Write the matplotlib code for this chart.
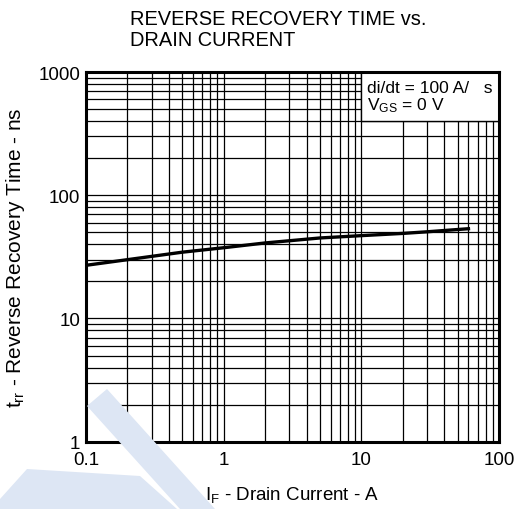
import matplotlib
matplotlib.use("Agg")
import matplotlib.pyplot as plt
from matplotlib.patches import Polygon, Rectangle

plt.rcParams['font.family'] = ['Liberation Sans', 'DejaVu Sans']
plt.rcParams['mathtext.fontset'] = 'custom'
plt.rcParams['mathtext.rm'] = 'Liberation Sans'
plt.rcParams['mathtext.it'] = 'Liberation Sans'

# trr vs IF
drain_current = [0.1, 0.2, 0.5, 1, 2, 5, 10, 20, 30, 60]
recovery_time = [27, 30, 34.5, 37.5, 41, 45, 47, 49, 50.5, 53.5]

x_ticks = [0.1, 1, 10, 100]
x_labels = ['0.1', '1', '10', '100']
y_ticks = [1, 10, 100, 1000]
y_labels = ['1', '10', '100', '1000']

W, H = 517, 510
fig = plt.figure(figsize=(W / 100, H / 100), dpi=100)

# faint watermark shapes in the bottom-left corner
wm = '#dde6f4'
def px(pts):
    return [(x / W, 1 - y / H) for x, y in pts]
fig.patches.append(Polygon(px([(87, 407), (107, 390), (215, 510), (180, 510)]),
                           closed=True, transform=fig.transFigure,
                           facecolor=wm, edgecolor='none', zorder=0))
fig.patches.append(Polygon(px([(0, 500), (27, 470), (140, 477), (177, 510), (0, 510)]),
                           closed=True, transform=fig.transFigure,
                           facecolor=wm, edgecolor='none', zorder=0))

ax = fig.add_axes([86 / W, 1 - 442.7 / H, 413 / W, 369.7 / H])
ax.set_facecolor('none')
ax.set_xscale('log')
ax.set_yscale('log')
ax.set_xlim(0.1, 100)
ax.set_ylim(1, 1000)
ax.set_axisbelow(True)
ax.grid(True, which='both', color='black', linewidth=0.9)

ax.plot(drain_current, recovery_time, color='black', linewidth=2.4, zorder=3)

# condition box in the upper right
ax.add_patch(Rectangle((10, 400), 90, 600, facecolor='white',
                       edgecolor='black', linewidth=1.0, zorder=1))
ax.text(0.68, 0.957, 'di/dt = 100 A/   s', transform=ax.transAxes,
        fontsize=12.5, va='center', ha='left', zorder=4)
ax.text(0.68, 0.913, r'V$_{\mathrm{GS}}$ = 0 V', transform=ax.transAxes,
        fontsize=12.5, va='center', ha='left', zorder=4)

ax.set_xticks(x_ticks)
ax.set_xticklabels(x_labels)
ax.set_yticks(y_ticks)
ax.set_yticklabels(y_labels)
ax.tick_params(which='both', length=0, labelsize=13.5)
ax.tick_params(axis='x', pad=7)
ax.tick_params(axis='y', pad=4)
for s in ax.spines.values():
    s.set_linewidth(2.2)
    s.set_zorder(5)

ax.set_xlabel(r'I$_{\mathrm{F}}$ - Drain Current - A', fontsize=13.5, labelpad=11)
ax.set_ylabel(r't$_{\mathrm{rr}}$ - Reverse Recovery Time - ns', fontsize=15, labelpad=8)

fig.text(130 / W, 1 - 10 / H, 'REVERSE RECOVERY TIME vs.\nDRAIN CURRENT',
         fontsize=14.4, va='top', ha='left', linespacing=1.1)

fig.savefig('out.png', dpi=100)
